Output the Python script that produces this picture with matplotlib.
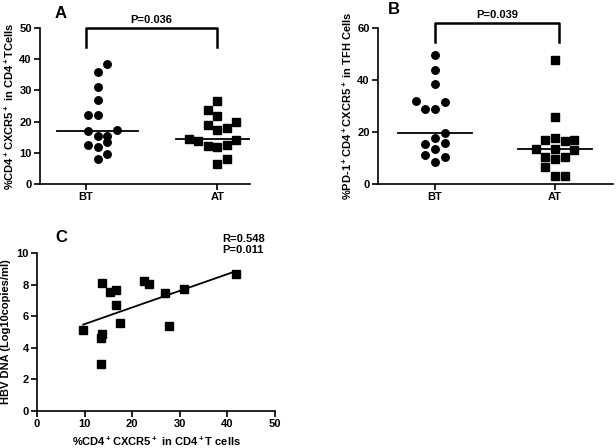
import numpy as np
import matplotlib
matplotlib.use("Agg")
from matplotlib import pyplot as plt

plt.rcParams['font.family'] = ['Liberation Sans', 'DejaVu Sans']
plt.rcParams['font.weight'] = 'bold'
plt.rcParams['mathtext.fontset'] = 'custom'
plt.rcParams['mathtext.rm'] = 'Liberation Sans:bold'
plt.rcParams['mathtext.bf'] = 'Liberation Sans:bold'
plt.rcParams['mathtext.default'] = 'bf'

# panel A: %CD4+CXCR5+ in CD4+ T cells
groups = ["BT", "AT"]
a_bt = [38.5, 36.0, 31.0, 26.8, 22.2, 22.1, 17.1, 17.2, 15.3, 15.5, 13.5, 12.4, 11.7, 9.7, 8.1]
a_at = [26.5, 23.8, 21.9, 18.8, 17.4, 17.9, 19.9, 14.5, 13.9, 12.3, 11.9, 12.6, 14.0, 6.5, 8.0]
a_p = "P=0.036"

# panel B: %PD-1+CD4+CXCR5+ in TFH cells
b_bt = [49.5, 43.8, 38.6, 31.9, 31.4, 28.7, 28.7, 19.7, 17.5, 15.4, 15.9, 13.6, 11.2, 10.2, 8.5]
b_at = [47.8, 25.6, 16.8, 17.5, 16.5, 16.9, 13.3, 13.6, 13.2, 10.2, 9.7, 10.2, 6.5, 2.9, 2.9]
b_p = "P=0.039"

# panel C: correlation with HBV DNA
c_x = [9.7, 13.6, 15.3, 16.6, 16.7, 17.4, 13.6, 13.4, 13.4, 22.5, 23.5, 26.9, 27.8, 30.9, 41.8]
c_y = [5.1, 8.1, 7.55, 6.7, 7.65, 5.6, 4.9, 4.6, 3.0, 8.2, 8.05, 7.45, 5.4, 7.7, 8.65]
c_stats = "R=0.548\nP=0.011"

# swarm column of each point (layout only)
a_bt_col = [1, 0, 0, 0, -1, 0, -1, 2, 0, 1, 1, -1, 0, 1, 0]
a_at_col = [0, -1, 0, -1, 0, 1, 2, -3, -2, -1, 0, 1, 2, 0, 1]
b_bt_col = [0, 0, 0, -2, 1, -1, 0, 1, 0, -1, 1, 0, -1, 1, 0]
b_at_col = [0, 0, -1, 0, 1, 2, -2, 0, 2, -1, 0, 1, -1, 0, 1]

FS = 8

fig = plt.figure(figsize=(6.16, 4.48), dpi=100)


def style(ax):
    for s in ["top", "right"]:
        ax.spines[s].set_visible(False)
    for s in ["left", "bottom"]:
        ax.spines[s].set_linewidth(1.2)
    ax.tick_params(axis="both", direction="out", length=4, width=1.2, labelsize=FS, pad=2)
    for lab in ax.get_xticklabels() + ax.get_yticklabels():
        lab.set_fontweight("bold")


def swarm(ax, vals, cols, center, step, marker, ms):
    xs = center + np.array(cols) * step
    ax.plot(xs, vals, linestyle="none", marker=marker, color="black", ms=ms)
    ax.plot([center - 0.31, center + 0.31], [np.median(vals)] * 2, color="black", lw=1.3)


def bracket(ax, y_top, y_leg, x0, x1, text):
    ax.plot([x0, x0, x1, x1], [y_leg, y_top, y_top, y_leg], color="black", lw=1.8, clip_on=False)
    ax.text((x0 + x1) / 2, y_top * 1.02, text, ha="center", va="bottom", fontsize=FS,
            fontweight="bold", clip_on=False)


# ---- A ----
axA = fig.add_axes([40 / 616, 264 / 448, 210 / 616, 156 / 448])
swarm(axA, a_bt, a_bt_col, 0.09, 0.0725, "o", 5.4)
swarm(axA, a_at, a_at_col, 1.0, 0.0725, "s", 5.2)
axA.set_xlim(-0.35, 1.25)
axA.set_ylim(0, 50)
axA.set_yticks([0, 10, 20, 30, 40, 50])
axA.set_xticks([0, 1])
axA.set_xticklabels(groups)
axA.set_ylabel("%CD4$^+$CXCR5$^+$ in CD4$^+$TCells", fontsize=FS, fontweight="bold", labelpad=2)
bracket(axA, 50, 43.8, 0, 1, a_p)
style(axA)
fig.text(55 / 616, 1 - 14 / 448, "A", fontsize=12, fontweight="bold", va="center")

# ---- B ----
axB = fig.add_axes([378 / 616, 264 / 448, 235 / 616, 156 / 448])
swarm(axB, b_bt, b_bt_col, 0.0, 0.08, "o", 5.4)
swarm(axB, b_at, b_at_col, 1.0, 0.08, "s", 5.2)
axB.set_xlim(-0.475, 1.483)
axB.set_ylim(0, 60)
axB.set_yticks([0, 20, 40, 60])
axB.set_xticks([0, 1])
axB.set_xticklabels(groups)
axB.set_ylabel("%PD-1$^+$CD4$^+$CXCR5$^+$ in TFH Cells", fontsize=FS, fontweight="bold", labelpad=2)
bracket(axB, 61.9, 54.8, 0, 1.03, b_p)
style(axB)
fig.text(388 / 616, 1 - 9 / 448, "B", fontsize=12, fontweight="bold", va="center")

# ---- C ----
axC = fig.add_axes([37 / 616, 37 / 448, 238 / 616, 158 / 448])
axC.plot(c_x, c_y, linestyle="none", marker="s", color="black", ms=5.2)
k, b = np.polyfit(c_x, c_y, 1)
xx = np.array([min(c_x), max(c_x)])
axC.plot(xx, k * xx + b, color="black", lw=1.3)
axC.set_xlim(0, 50)
axC.set_ylim(0, 10)
axC.set_xticks([0, 10, 20, 30, 40, 50])
axC.set_yticks([0, 2, 4, 6, 8, 10])
axC.set_xlabel("%CD4$^+$CXCR5$^+$ in CD4$^+$T cells", fontsize=FS, fontweight="bold", labelpad=4)
axC.set_ylabel("HBV DNA (Log10copies/ml)", fontsize=FS, fontweight="bold", labelpad=4)
axC.text(38.9, 11.2, c_stats, ha="left", va="top", fontsize=FS, fontweight="bold",
         linespacing=1.1, clip_on=False)
style(axC)
fig.text(55 / 616, 1 - 237 / 448, "C", fontsize=12, fontweight="bold", va="center")

fig.savefig("out.png", dpi=100)
